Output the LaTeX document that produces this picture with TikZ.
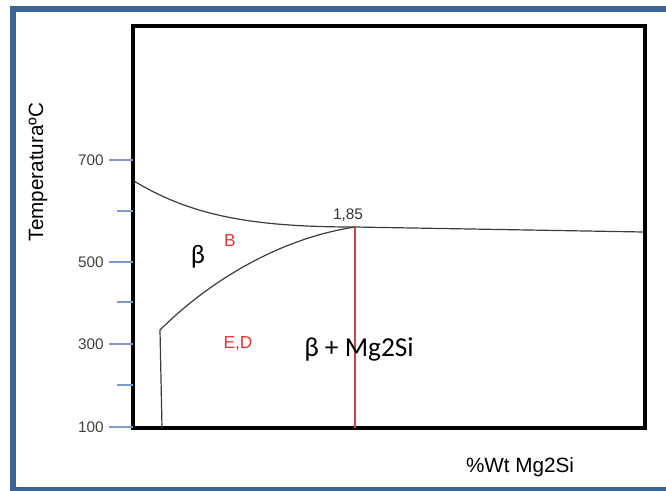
\documentclass[tikz,border=0pt]{standalone}
\usepackage{fontspec}
\setmainfont{Liberation Sans}
\newfontfamily\calib{Carlito}
\usepackage{tikz}
\definecolor{framebl}{RGB}{58,100,150}
\definecolor{tickbl}{RGB}{125,155,200}
\definecolor{curvegr}{RGB}{60,60,60}
\definecolor{solvred}{RGB}{200,70,70}
\definecolor{labred}{RGB}{235,50,50}

\begin{document}
\begin{tikzpicture}[x=0.75pt, y=-0.75pt,
    tick/.style={tickbl, line width=0.9pt},
    ticklab/.style={anchor=east, text=black!75, font=\fontsize{11.5}{12}\selectfont, inner sep=0pt},
    curve/.style={curvegr, line width=0.9pt},
    redlab/.style={text=labred, font=\fontsize{13}{14}\selectfont, inner sep=0pt}]
    \useasboundingbox (0,0) rectangle (666,490);

    % blue frame
    \draw[framebl, line width=4.5pt] (666,9) -- (13,9) -- (13,490);
    \draw[framebl, line width=3pt] (10,488.5) -- (666,488.5);

    % plot box
    \draw[line width=2.4pt] (133,26) rectangle (645,428);

    % y axis ticks
    \foreach \y/\t in {160/700, 262/500, 344/300, 427/100} {
        \draw[tick] (109,\y) -- (133,\y);
        \node[ticklab] at (104,\y) {\t};
    }
    \foreach \y in {211, 302, 385}
        \draw[tick] (117,\y) -- (133,\y);

    % axis labels
    \node[rotate=90, font=\fontsize{15.5}{16}\selectfont, inner sep=0pt] (ylab) at (38,172) {Temperaturaº{}C};
    \node[font=\fontsize{15.5}{16}\selectfont, inner sep=0pt] (xlab) at (520,467) {\%Wt Mg2Si};

    % solvus and liquidus points
    \coordinate (liq0) at (134,181);
    \coordinate (eut) at (355,227);
    \coordinate (liq1) at (644,232);
    \coordinate (sol0) at (160,330);
    \coordinate (sol1) at (162,428);
    \coordinate (red1) at (355,428);

    % curves
    \draw[curve] (liq0) .. controls (190,215) and (250,227) .. (eut) -- (liq1);
    \draw[curve] (sol1) -- (sol0) .. controls (200,290) and (270,240) .. (eut);
    \draw[solvred, line width=1.2pt] (eut) -- (red1);

    % labels
    \node[font=\fontsize{11.5}{12}\selectfont, text=black!80, inner sep=0pt] (comp) at (348,215) {1,85};
    \node[font=\calib\fontsize{20}{22}\selectfont, inner sep=0pt] (beta) at (198,257) {β};
    \node[redlab] (lbB) at (230,241) {B};
    \node[redlab] (lbED) at (238,344) {E,D};
    \node[font=\calib\fontsize{20.5}{22}\selectfont, inner sep=0pt] (twoph) at (359,349) {β + Mg2Si};
\end{tikzpicture}
\end{document}
